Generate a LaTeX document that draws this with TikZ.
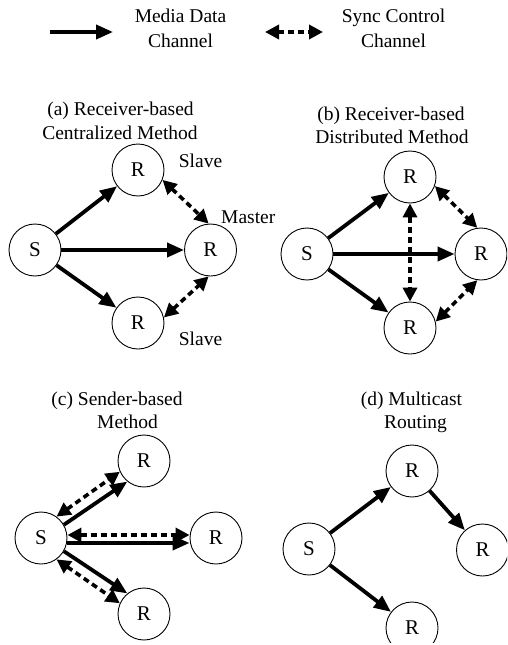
\documentclass[tikz,border=0pt]{standalone}
\usepackage{fontspec}
\setmainfont{Liberation Serif}
\usetikzlibrary{arrows.meta}
\begin{document}
\begin{tikzpicture}[x=1pt,y=-1pt,
  txt/.style={font=\fontsize{19.5}{24}\selectfont, inner sep=0pt, anchor=base},
  peer/.style={circle, draw, line width=0.9pt, minimum size=52pt, inner sep=0pt,
    font=\fontsize{21}{24}\selectfont},
  media/.style={line width=3.8pt, -{Triangle[length=17pt,width=14pt]}},
  sync/.style={line width=3.6pt, dash pattern=on 6pt off 4pt,
    {Triangle[length=14pt,width=14pt]}-{Triangle[length=14pt,width=14pt]}}
]
\useasboundingbox (0,0) rectangle (507,645);
\clip (0,0) rectangle (507,642);

% ---------- legend ----------
\coordinate (legMa) at (50,32);
\coordinate (legMb) at (113,32);
\coordinate (legSa) at (265,32);
\coordinate (legSb) at (323,32);
\draw[media] (legMa) -- (legMb);
\draw[sync] (legSa) -- (legSb);
\node[txt] (legM1) at (180.5,23) {Media Data};
\node[txt] (legM2) at (180.5,47) {Channel};
\node[txt] (legS1) at (393.5,23) {Sync Control};
\node[txt] (legS2) at (393.5,47) {Channel};

% ---------- (a) receiver-based centralized ----------
\node[txt] (aT1) at (120.5,115) {(a) Receiver-based};
\node[txt] (aT2) at (120,139) {Centralized Method};
\node[peer] (aS) at (35,250) {S};
\node[peer] (aRt) at (138,170) {R};
\node[peer] (aRm) at (210.5,250) {R};
\node[peer] (aRb) at (138,323) {R};
\node[txt] (aSlave1) at (200.5,167) {Slave};
\node[txt, anchor=base west] (aMaster) at (221,223) {Master};
\node[txt] (aSlave2) at (200.5,345) {Slave};
\draw[media] (aS) -- (aRt);
\draw[media] (aS) -- (aRm);
\draw[media] (aS) -- (aRb);
\draw[sync] (aRt.-22) -- (aRm.94);
\draw[sync] (aRb.12) -- (aRm.-94);

% ---------- (b) receiver-based distributed ----------
\node[txt] (bT1) at (391,120) {(b) Receiver-based};
\node[txt] (bT2) at (392,143) {Distributed Method};
\node[peer] (bS) at (307,254) {S};
\node[peer] (bRt) at (410,177) {R};
\node[peer] (bRr) at (481,254) {R};
\node[peer] (bRb) at (410,328) {R};
\draw[media] (bS) -- (bRt);
\draw[media] (bS) -- (bRr);
\draw[media] (bS) -- (bRb);
\draw[sync] (bRt.south) -- (bRb.north);
\draw[sync] (bRt.-20) -- (bRr.98);
\draw[sync] (bRb.14) -- (bRr.-98);

% ---------- (c) sender-based ----------
\node[txt] (cT1) at (117,405) {(c) Sender-based};
\node[txt] (cT2) at (127.5,428) {Method};
\node[peer] (cS) at (41,538) {S};
\node[peer] (cRt) at (144,461) {R};
\node[peer] (cRm) at (216,538) {R};
\node[peer] (cRb) at (144,614) {R};
\draw[media] (cS.30) -- (cRt.231);
\draw[sync] (cS.54) -- (cRt.204);
\draw[media] ([yshift=-5pt]cS.east) -- ([yshift=-5pt]cRm.west);
\draw[sync] ([yshift=3pt]cS.east) -- ([yshift=3pt]cRm.west);
\draw[media] (cS.-30) -- (cRb.129);
\draw[sync] (cS.-54) -- (cRb.156);

% ---------- (d) multicast routing ----------
\node[txt] (dT1) at (411.5,405) {(d) Multicast};
\node[txt] (dT2) at (415.5,428) {Routing};
\node[peer] (dS) at (309,549) {S};
\node[peer] (dRt) at (412,471) {R};
\node[peer] (dRr) at (482.5,550) {R};
\node[peer] (dRb) at (412,628) {R};
\draw[media] (dS) -- (dRt);
\draw[media] (dRt) -- (dRr);
\draw[media] (dS) -- (dRb);
\end{tikzpicture}
\end{document}
